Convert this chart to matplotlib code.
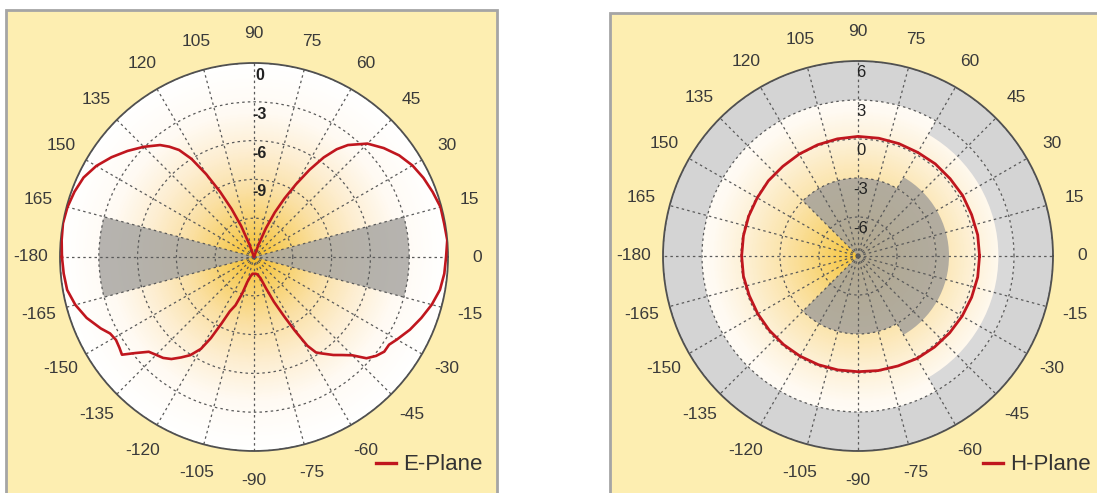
import numpy as np
import matplotlib
matplotlib.use("Agg")
import matplotlib.pyplot as plt
from matplotlib.colors import LinearSegmentedColormap
from matplotlib.patches import Rectangle
from matplotlib.lines import Line2D

plt.rcParams['font.family'] = ['Liberation Sans', 'DejaVu Sans']

# ---------------- data ----------------
e_theta_deg = [-180, -175, -170, -165, -160, -155, -152, -149, -146, -143.5, -141, -138,
               -135, -132, -129, -126, -123, -120, -118, -116, -114, -111, -108, -105,
               -100, -95, -90, -85, -80, -73, -69, -66, -63, -61, -59, -57, -55, -51,
               -48, -45, -42, -39, -36, -33, -30, -25, -20, -15, -10, -5, 0, 5, 10, 15,
               20, 25, 30, 35, 40, 45, 50, 52.5, 55, 57.5, 60, 62.5, 65, 67.5, 70, 72,
               90, 108, 110, 112.5, 115, 117.5, 120, 122.5, 125, 127.5, 130, 135, 140,
               145, 150, 155, 160, 165, 170, 175]
e_gain_db = [-0.15, -0.23, -0.33, -0.7, -1.23, -1.93, -2.4, -2.55, -2.45, -2.3, -3.2, -4.05,
             -4.3, -4.5, -4.85, -5.4, -5.95, -6.8, -7.9, -9.3, -10.4, -11.0, -12.0, -13.0,
             -13.5, -13.7, -13.7, -13.7, -13.65, -13.3, -12.4, -11.2, -9.8, -8.5, -7.0, -6.2, -5.9, -5.25,
             -4.8, -4.25, -3.3, -2.85, -2.55, -2.55, -2.24, -1.7, -1.23, -0.77, -0.4, -0.23, -0.15, 0.0, -0.07, -0.07,
             -0.3, -0.54, -0.85, -1.3, -1.9, -2.6, -3.7, -4.5, -5.6, -7.0, -8.5, -9.9, -11.2, -12.6, -14.0, -15.0,
             -15.0, -15.0, -14.0, -12.4, -10.9, -9.3, -7.6, -6.0, -4.9, -4.25, -3.7, -2.95, -2.24,
             -1.55, -0.92, -0.46, -0.23, -0.07, 0.0, -0.07]

h_theta_deg = [0, 10, 20, 30, 40, 50, 60, 70, 80, 90, 100, 110, 120, 130, 140, 150, 160, 170,
               180, 190, 200, 210, 220, 230, 240, 250, 260, 270, 280, 290, 300, 310, 320, 330, 340, 350]
h_gain_db = [0.35, 0.35, 0.3, 0.3, 0.25, 0.25, 0.2, 0.2, 0.2, 0.2, 0.15, 0.1, 0.05, 0.0, 0.0, -0.05, -0.05, -0.05,
             -0.05, -0.05, -0.1, -0.1, -0.1, -0.1, -0.1, -0.1, -0.1, -0.1, -0.05, 0.0, 0.1, 0.15, 0.2, 0.25, 0.3, 0.35]

theta_tick_deg = list(range(0, 360, 15))
theta_tick_labels = ['0', '15', '30', '45', '60', '75', '90', '105', '120', '135', '150', '165',
                     '-180', '-165', '-150', '-135', '-120', '-105', '-90', '-75', '-60', '-45', '-30', '-15']

e_r_lim = (-15, 0)
e_r_ticks = [-12, -9, -6, -3, 0]
e_r_labels = ['', '-9', '-6', '-3', '0']
h_r_lim = (-9, 6)
h_r_ticks = [-6, -3, 0, 3, 6]
h_r_labels = ['-6', '-3', '0', '3', '6']

series_names = ['E-Plane', 'H-Plane']

# ---------------- figure ----------------
W, H = 1097, 493
fig = plt.figure(figsize=(W / 100, H / 100), dpi=100)

panel_face = '#fdeeb1'
panel_edge = '#a5a5a5'
fig.patches.append(Rectangle((6 / W, -0.05), (497 - 6) / W, (493 - 10) / H + 0.05,
                             transform=fig.transFigure, facecolor=panel_face,
                             edgecolor=panel_edge, lw=2, zorder=-10))
fig.patches.append(Rectangle((610 / W, -0.05), (1097 - 610) / W + 0.05, (493 - 13) / H + 0.05,
                             transform=fig.transFigure, facecolor=panel_face,
                             edgecolor=panel_edge, lw=2, zorder=-10))

RED = '#c0161e'
GRID_C = '#5a5a5a'


def make_polar(cx, cy, R, rlim, stops):
    rect = [(cx - R) / W, (H - cy - R) / H, 2 * R / W, 2 * R / H]
    ax = fig.add_axes(rect, projection='polar')
    ax.set_facecolor('white')
    rmin, rmax = rlim
    th = np.linspace(0, 2 * np.pi, 721)
    rr = np.linspace(rmin, rmax, 201)
    T, RR = np.meshgrid(th, rr)
    rc = 0.5 * (rr[:-1] + rr[1:])
    frac = np.repeat(((rc - rmin) / (rmax - rmin))[:, None], len(th) - 1, axis=1)
    cmap = LinearSegmentedColormap.from_list('grad', stops)
    ax.pcolormesh(T, RR, frac, cmap=cmap, vmin=0, vmax=1, shading='flat',
                  antialiased=False, edgecolors='none', zorder=0)
    ax.set_ylim(rmin, rmax)
    ax.set_xticks(np.deg2rad(theta_tick_deg))
    ax.set_xticklabels([])
    ax.grid(True, color=GRID_C, linestyle=(0, (2, 2.5)), linewidth=0.9)
    ax.spines['polar'].set_edgecolor('#505050')
    ax.spines['polar'].set_linewidth(1.3)
    r_lab = rmin + 1.15 * (rmax - rmin)
    for ang, lab in zip(theta_tick_deg, theta_tick_labels):
        ax.text(np.deg2rad(ang), r_lab, lab, ha='center', va='center', fontsize=12.5,
                color='#3a3a3a', clip_on=False)
    return ax


# ---------- Left: E-plane ----------
axE = make_polar(254, 257, 194, e_r_lim,
                 [(0, '#f4bd2a'), (0.15, '#f7cf65'), (0.35, '#fae0a5'),
                  (0.55, '#fdeed2'), (0.75, '#fffaf3'), (1, '#ffffff')])
axE.set_yticks(e_r_ticks)
axE.set_yticklabels([])
for ctr in (0, np.pi):
    axE.bar(ctr, 12, width=np.deg2rad(30), bottom=-15, color='#a9a7a3', alpha=0.85,
            linewidth=0, zorder=1)
for v, lab in zip(e_r_ticks, e_r_labels):
    axE.annotate(lab, xy=(np.pi / 2, v), xytext=(4, -9), textcoords='offset points',
                 ha='center', va='center', fontsize=11.5, fontweight='bold',
                 color='#222222', zorder=5)
th = np.deg2rad(e_theta_deg + [e_theta_deg[0]])
axE.plot(th, e_gain_db + [e_gain_db[0]], color=RED, lw=1.9, zorder=3)
axE.legend(handles=[Line2D([], [], color=RED, lw=2.4)], labels=[series_names[0]],
           loc='center left', bbox_to_anchor=(376 / W, 1 - 465 / H),
           bbox_transform=fig.transFigure, frameon=False, fontsize=16,
           handlelength=0.9, handletextpad=0.3, borderpad=0, borderaxespad=0,
           labelcolor='#333333')

# ---------- Right: H-plane ----------
axH = make_polar(858, 256, 195, h_r_lim,
                 [(0, '#f6c43a'), (0.2, '#f8d577'), (0.4, '#fbe4ad'),
                  (0.6, '#fdf1d8'), (0.75, '#fffaf2'), (1, '#ffffff')])
axH.set_yticks(h_r_ticks)
axH.set_yticklabels([])
# outer grey annulus
axH.bar(0, 3, width=2 * np.pi, bottom=3, color='#d4d4d4', linewidth=0, zorder=1)
axH.bar(0, 1.2, width=np.deg2rad(120), bottom=1.8, color='#d9d9d9', linewidth=0, zorder=1)
# inner dark region
axH.bar(0, 6, width=np.deg2rad(270), bottom=-9, color='#a5a29c', alpha=0.85,
        linewidth=0, zorder=1)
axH.bar(0, 1, width=np.deg2rad(120), bottom=-3, color='#a5a29c', alpha=0.85,
        linewidth=0, zorder=1)
for v, lab in zip(h_r_ticks, h_r_labels):
    axH.annotate(lab, xy=(np.pi / 2, v), xytext=(2, -8), textcoords='offset points',
                 ha='center', va='center', fontsize=12,
                 color='#222222', zorder=5)
th = np.deg2rad(h_theta_deg + [h_theta_deg[0]])
axH.plot(th, h_gain_db + [h_gain_db[0]], color=RED, lw=2.0, zorder=3)
axH.legend(handles=[Line2D([], [], color=RED, lw=2.4)], labels=[series_names[1]],
           loc='center left', bbox_to_anchor=(983 / W, 1 - 465 / H),
           bbox_transform=fig.transFigure, frameon=False, fontsize=16,
           handlelength=0.9, handletextpad=0.3, borderpad=0, borderaxespad=0,
           labelcolor='#333333')

fig.savefig('out.png', dpi=100)
